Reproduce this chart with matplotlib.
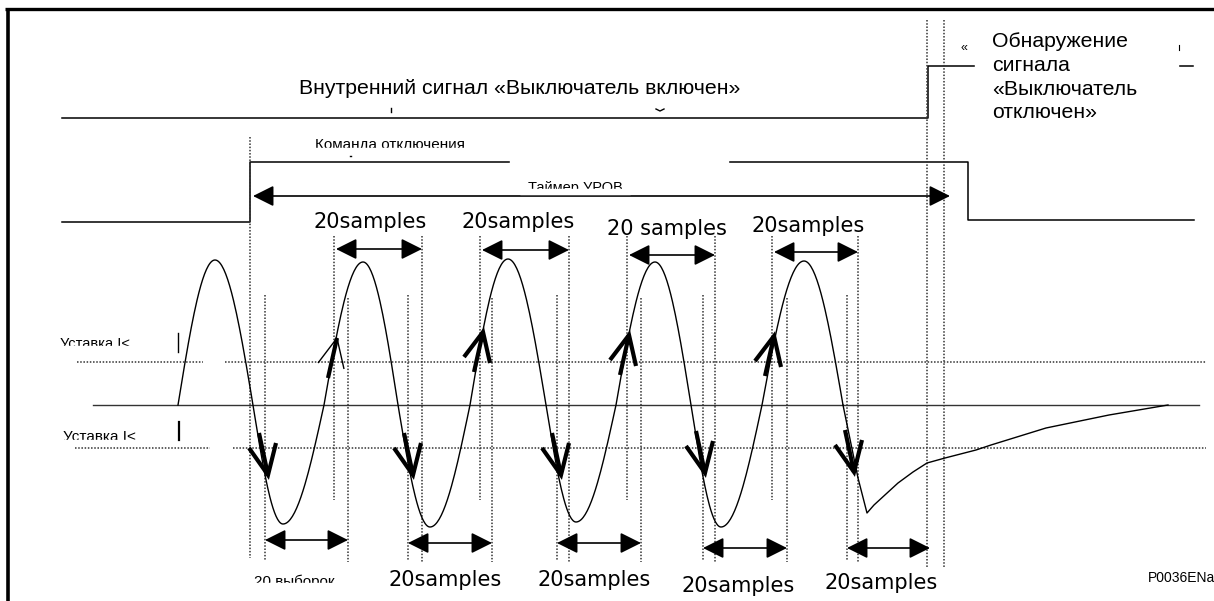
import matplotlib
matplotlib.use('Agg')
import matplotlib.pyplot as plt
from matplotlib.patches import Rectangle
import numpy as np

W, H = 1214, 601

# logic signals, screen pixels from top-left
cb_x = [62, 928, 928, 1193]
cb_y = [118, 118, 66, 66]
trip_x = [62, 250, 250, 968, 968, 1194]
trip_y = [222, 222, 162, 162, 220, 220]

# current waveform: zero crossings and extremes
zero_y = 405
wave_x = [178, 215, 253, 283, 324, 363, 398, 430, 470, 508, 546, 576, 616, 655, 691, 721, 762, 804, 843]
wave_y = [405, 260, 405, 524, 405, 262, 405, 527, 405, 259, 405, 522, 405, 262, 405, 527, 405, 261, 405]
# decaying tail after the breaker opens
tail_x = [843, 858, 867, 874, 898, 913, 927, 945, 976, 991, 1046, 1109, 1168]
tail_y = [405, 478, 513, 505, 483, 472, 463, 458, 450, 445, 428, 415, 405]

set_hi = 362
set_lo = 448

# 20 sample windows
top_win_x0 = [334, 480, 627, 772]
top_win_x1 = [422, 569, 715, 858]
top_win_y = [249, 250, 255, 252]
top_lbl = ['20samples', '20samples', '20 samples', '20samples']
top_lbl_x = [370, 518, 667, 808]
top_lbl_y = [222, 222, 229, 226]

bot_win_x0 = [265, 408, 557, 703, 847]
bot_win_x1 = [348, 492, 641, 787, 930]
bot_win_y = [540, 543, 543, 548, 548]
bot_lbl = ['20samples', '20samples', '20samples', '20samples']
bot_lbl_x = [445, 594, 738, 881]
bot_lbl_y = [580, 580, 586, 583]

# bold arrows on the waveform (tip positions)
up_tip_x = [337, 483, 629, 774]
up_tip_y = [338, 332, 335, 336]
down_tip_x = [268, 413, 561, 705, 854]
down_tip_y = [475, 475, 475, 473, 472]


def quarter_waves(xs, ys, base):
    px, py = [], []
    t = np.linspace(0, 1, 40)
    for x0, y0, x1, y1 in zip(xs[:-1], ys[:-1], xs[1:], ys[1:]):
        if y0 == base:
            s = np.sin(t * np.pi / 2)
        else:
            s = 1 - np.cos(t * np.pi / 2)
        px.extend(x0 + (x1 - x0) * t)
        py.extend(y0 + (y1 - y0) * s)
    return px, py


fig = plt.figure(figsize=(W / 100, H / 100), dpi=100)
ax = fig.add_axes([0, 0, 1, 1])
ax.set_xlim(0, W)
ax.set_ylim(H, 0)
ax.axis('off')

arial = 'Liberation Sans'
dots = dict(color='#333333', lw=1.1, linestyle=(0, (1, 1.1)))

# frame
ax.plot([5, W], [9, 9], color='k', lw=2.4, solid_capstyle='butt')
ax.plot([8, 8], [8, H], color='k', lw=2.6, solid_capstyle='butt')

# signals
ax.plot(cb_x, cb_y, color='k', lw=1.1)
ax.plot(trip_x, trip_y, color='k', lw=1.1)

# vertical dotted markers
ax.plot([250, 250], [137, 558], **dots)
ax.plot([927, 927], [20, 567], **dots)
ax.plot([944, 944], [20, 567], **dots)
for x in top_win_x0:
    ax.plot([x, x], [236, 500], **dots)
for x in top_win_x1:
    ax.plot([x, x], [236, 562], **dots)
for x in bot_win_x0:
    ax.plot([x, x], [295, 560], **dots)
for x in bot_win_x1[:-1]:
    ax.plot([x, x], [298, 562], **dots)

# thresholds and zero line
ax.plot([77, 203], [set_hi, set_hi], **dots)
ax.plot([225, 1206], [set_hi, set_hi], **dots)
ax.plot([75, 210], [set_lo, set_lo], **dots)
ax.plot([233, 1206], [set_lo, set_lo], **dots)
ax.plot([93, 1199], [zero_y, zero_y], color='#333333', lw=1.0)
ax.plot([178, 178], [333, 352], color='k', lw=1.0)
ax.plot([179, 179], [422, 440], color='k', lw=1.6)

# waveform
wx, wy = quarter_waves(wave_x, wave_y, zero_y)
ax.plot(wx, wy, color='k', lw=1.0)
ax.plot(tail_x, tail_y, color='k', lw=1.0)

# bold direction arrows
for i, (x, y) in enumerate(zip(up_tip_x, up_tip_y)):
    arm = 1.0 if i == 0 else 3.0
    ax.plot([x - 9, x], [y + 40, y], color='k', lw=3.0, solid_capstyle='butt')
    ax.plot([x - 19, x, x + 7], [y + 25, y, y + 31], color='k', lw=arm,
            solid_capstyle='butt', solid_joinstyle='miter')
for x, y in zip(down_tip_x, down_tip_y):
    ax.plot([x - 9, x], [y - 42, y], color='k', lw=3.0, solid_capstyle='butt')
    ax.plot([x - 19, x, x + 8], [y - 27, y, y - 32], color='k', lw=3.0,
            solid_capstyle='butt', solid_joinstyle='miter')

# double arrows
harrow = dict(arrowstyle='<|-|>,head_length=0.4,head_width=0.2', color='k',
              lw=1.2, mutation_scale=32, shrinkA=0, shrinkB=0)
for x0, x1, y in zip(top_win_x0, top_win_x1, top_win_y):
    ax.annotate('', xy=(x1, y), xytext=(x0 + 2, y), arrowprops=harrow)
for x0, x1, y in zip(bot_win_x0, bot_win_x1, bot_win_y):
    ax.annotate('', xy=(x1, y), xytext=(x0, y), arrowprops=harrow)
ax.annotate('', xy=(950, 196), xytext=(253, 196), arrowprops=harrow)

# sample labels
for s, x, y in zip(top_lbl, top_lbl_x, top_lbl_y):
    ax.text(x, y, s, fontsize=15, family='DejaVu Sans', ha='center', va='center')
for s, x, y in zip(bot_lbl, bot_lbl_x, bot_lbl_y):
    ax.text(x, y, s, fontsize=15, family='DejaVu Sans', ha='center', va='center')

# white boxes behind labels
ax.add_patch(Rectangle((510, 150), 218, 33, color='white', zorder=2))
ax.add_patch(Rectangle((975, 20), 203, 105, color='white', zorder=2))


def clipped(x, y, s, size, cut, x0, x1, ha='left', depth=5):
    # label whose lower part is hidden under a white strip, as in the original
    ax.text(x, y, s, fontsize=size, family=arial, ha=ha, va='baseline', zorder=3)
    ax.add_patch(Rectangle((x0, cut), x1 - x0, depth, color='white', zorder=4))


ax.text(520, 88, 'Внутренний сигнал «Выключатель включен»', fontsize=15.3,
        family=arial, ha='center', va='center', zorder=3)
clipped(390, 149, 'Команда отключения', 11, 148, 305, 475, ha='center')
clipped(575, 192, 'Таймер УРОВ', 10.5, 189, 520, 630, ha='center')
clipped(60, 348, 'Уставка I<', 10.5, 346, 55, 142)
clipped(63, 441, 'Уставка I<', 11, 440, 55, 145)
clipped(294, 586, '20 выборок', 11, 583, 245, 345, ha='center', depth=8)

ax.text(992, 32, 'Обнаружение\nсигнала\n«Выключатель\nотключен»', fontsize=15.3,
        family=arial, ha='left', va='top', linespacing=1.32, zorder=3)
ax.text(964, 48, '«', fontsize=9, family=arial, ha='center', va='center')
ax.plot([1179, 1179], [45, 50], color='k', lw=0.8)
ax.text(1148, 578, 'P0036ENa', fontsize=10, family=arial, ha='left', va='center')

# small stray marks from the original drawing
ax.plot([391, 391], [108, 112], color='k', lw=1.0)
ax.plot([350, 351], [156, 156], color='k', lw=1.0)
ax.plot([656, 660, 664], [109, 111, 109], color='k', lw=1.0)

fig.savefig('out.png', dpi=100)
